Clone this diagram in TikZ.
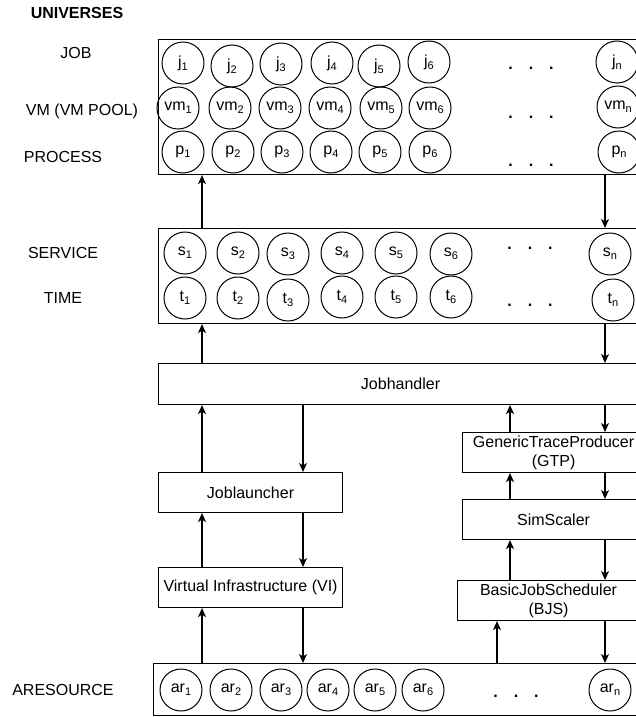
\documentclass[tikz,border=0pt]{standalone}
\usepackage{fontspec}
\setmainfont{Liberation Sans}
\usetikzlibrary{arrows.meta}
\newcommand{\ix}[1]{\raisebox{-0.35ex}{\fontsize{11}{11}\selectfont #1}}

\begin{document}
\begin{tikzpicture}[
  x=1pt, y=-1pt, >={Stealth[length=9pt,width=8pt,inset=2.5pt]},
  font=\fontsize{16}{19}\selectfont,
  box/.style={draw, line width=1.1pt, anchor=north west, align=center,
              inner sep=3pt},
  el/.style={draw, circle, line width=1pt, minimum size=42pt, inner sep=0pt},
  dotrow/.style={anchor=base, font=\fontsize{16}{19}\selectfont\bfseries},
  lbl/.style={align=center},
  arr/.style={->, line width=1.1pt}
]
\useasboundingbox (0,0) rectangle (636,717);
\clip (0,0) rectangle (636,717);

% ---- row labels
\node[font=\fontsize{16}{19}\selectfont\bfseries] (title) at (77,13) {UNIVERSES};
\node[lbl] (ljob) at (76,53) {JOB};
\node[lbl] (lvm) at (82,111) {VM (VM POOL)};
\node[lbl] (lproc) at (63,157) {PROCESS};
\node[lbl] (lsvc) at (63,253) {SERVICE};
\node[lbl] (ltime) at (63,298) {TIME};
\node[lbl] (lres) at (63,690) {ARESOURCE};

% ---- boxes
\node[box, minimum width=484pt, minimum height=135pt] (univ) at (158,39) {};
\node[box, minimum width=484pt, minimum height=95pt] (svc) at (158,228) {};
\node[box, minimum width=484pt, minimum height=41pt] (jh) at (158,363) {Jobhandler};
\node[box, minimum width=184pt, minimum height=40pt] (jl) at (158,472) {Joblauncher};
\node[box, minimum width=184pt, minimum height=40pt] (vi) at (158,567)
  {Virtual Infrastructure (VI)};
\node[box, minimum width=182pt, minimum height=40pt] (gtp) at (462,432)
  {GenericTraceProducer\\(GTP)};
\node[box, minimum width=182pt, minimum height=40pt] (sim) at (462,499) {SimScaler};
\node[box, minimum width=182pt, minimum height=40pt] (bjs) at (457,580)
  {BasicJobScheduler\\(BJS)};
\node[box, minimum width=489pt, minimum height=52pt] (ares) at (153,663) {};

% ---- universes: jobs, vms, processes
\node[el] (j1) at (183,63) {j\ix{1}};
\node[el] (j2) at (232,66) {j\ix{2}};
\node[el] (j3) at (281,64) {j\ix{3}};
\node[el] (j4) at (332,63) {j\ix{4}};
\node[el] (j5) at (379,66) {j\ix{5}};
\node[el] (j6) at (429,62) {j\ix{6}};
\node[el] (jn) at (617,62) {j\ix{n}};
\node[el] (vm1) at (178,108) {vm\ix{1}};
\node[el] (vm2) at (230,108) {vm\ix{2}};
\node[el] (vm3) at (280,108) {vm\ix{3}};
\node[el] (vm4) at (330,108) {vm\ix{4}};
\node[el] (vm5) at (381,108) {vm\ix{5}};
\node[el] (vm6) at (430,108) {vm\ix{6}};
\node[el] (vmn) at (618,107) {vm\ix{n}};
\node[el] (p1) at (183,152) {p\ix{1}};
\node[el] (p2) at (233,152) {p\ix{2}};
\node[el] (p3) at (282,152) {p\ix{3}};
\node[el] (p4) at (331,152) {p\ix{4}};
\node[el] (p5) at (380,152) {p\ix{5}};
\node[el] (p6) at (430,152) {p\ix{6}};
\node[el] (pn) at (619,152) {p\ix{n}};
\node[dotrow] (dj) at (531,70) {.\hspace{16pt}.\hspace{16pt}.};
\node[dotrow] (dvm) at (531,118) {.\hspace{16pt}.\hspace{16pt}.};
\node[dotrow] (dp) at (531,166) {.\hspace{16pt}.\hspace{16pt}.};

% ---- services and time
\node[el] (s1) at (185,253) {s\ix{1}};
\node[el] (s2) at (238,253) {s\ix{2}};
\node[el] (s3) at (288,254) {s\ix{3}};
\node[el] (s4) at (342,253) {s\ix{4}};
\node[el] (s5) at (396,253) {s\ix{5}};
\node[el] (s6) at (451,254) {s\ix{6}};
\node[el] (sn) at (610,254) {s\ix{n}};
\node[el] (t1) at (185,298) {t\ix{1}};
\node[el] (t2) at (238,298) {t\ix{2}};
\node[el] (t3) at (288,300) {t\ix{3}};
\node[el] (t4) at (342,297) {t\ix{4}};
\node[el] (t5) at (396,297) {t\ix{5}};
\node[el] (t6) at (451,297) {t\ix{6}};
\node[el] (tn) at (613,300) {t\ix{n}};
\node[dotrow] (ds) at (530,249) {.\hspace{16pt}.\hspace{16pt}.};
\node[dotrow] (dt) at (530,306) {.\hspace{16pt}.\hspace{16pt}.};

% ---- resources
\node[el] (ar1) at (181,690) {ar\ix{1}};
\node[el] (ar2) at (231,690) {ar\ix{2}};
\node[el] (ar3) at (281,690) {ar\ix{3}};
\node[el] (ar4) at (328,690) {ar\ix{4}};
\node[el] (ar5) at (375,690) {ar\ix{5}};
\node[el] (ar6) at (423,690) {ar\ix{6}};
\node[el] (arn) at (610,690) {ar\ix{n}};
\node[dotrow] (dar) at (516,697) {.\hspace{16pt}.\hspace{16pt}.};

% ---- arrow columns
\coordinate (cA) at (202,0);
\coordinate (cB) at (303,0);
\coordinate (cC) at (510,0);
\coordinate (cD) at (605,0);
\coordinate (cE) at (497,0);

% ---- edges
\draw[arr] (svc.north -| cA) -- (univ.south -| cA);
\draw[arr] (univ.south -| cD) -- (svc.north -| cD);
\draw[arr] (jh.north -| cA) -- (svc.south -| cA);
\draw[arr] (svc.south -| cD) -- (jh.north -| cD);
\draw[arr] (jl.north -| cA) -- (jh.south -| cA);
\draw[arr] (jh.south -| cB) -- (jl.north -| cB);
\draw[arr] (vi.north -| cA) -- (jl.south -| cA);
\draw[arr] (jl.south -| cB) -- (vi.north -| cB);
\draw[arr] (ares.north -| cA) -- (vi.south -| cA);
\draw[arr] (vi.south -| cB) -- (ares.north -| cB);
\draw[arr] (gtp.north -| cC) -- (jh.south -| cC);
\draw[arr] (jh.south -| cD) -- (gtp.north -| cD);
\draw[arr] (sim.north -| cC) -- (gtp.south -| cC);
\draw[arr] (gtp.south -| cD) -- (sim.north -| cD);
\draw[arr] (bjs.north -| cC) -- (sim.south -| cC);
\draw[arr] (sim.south -| cD) -- (bjs.north -| cD);
\draw[arr] (ares.north -| cE) -- (bjs.south -| cE);
\draw[arr] (bjs.south -| cD) -- (ares.north -| cD);
\end{tikzpicture}
\end{document}
